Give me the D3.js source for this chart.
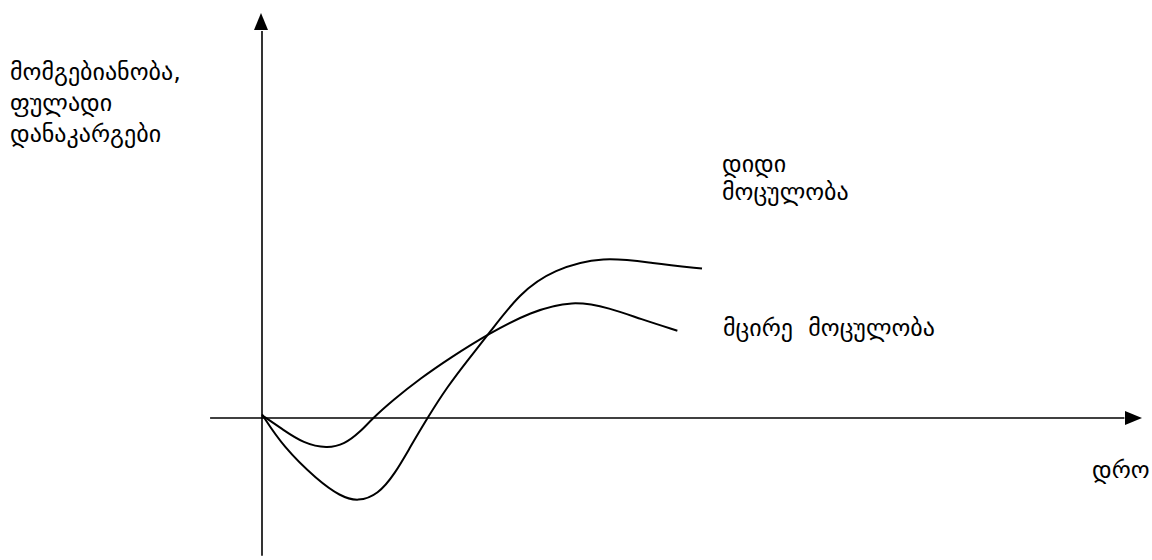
<!DOCTYPE html>
<html>
<head>
<meta charset="utf-8">
<script src="https://cdn.jsdelivr.net/npm/d3@7/dist/d3.min.js"></script>
<style>
  html, body { margin: 0; padding: 0; background: #fff; }
  svg { display: block; }
  text { font-family: "DejaVu Sans", sans-serif; fill: #000; }
</style>
</head>
<body>
<svg id="chart" width="1152" height="560"></svg>
<script>
// time (arbitrary units) and profitability / losses for two production volumes
const smallTime  = [0, 2.4, 4.7, 7.4, 9.4, 11.1, 12.5, 14.9, 18, 21.4, 25.8, 30.5, 35.3, 39.6, 43, 47.2];
const smallValue = [0.3, -1.3, -2.8, -3.4, -2.9, -1.6, -0.1, 2.0, 4.4, 6.7, 9.4, 11.8, 13.1, 12.2, 11.0, 9.7];

const largeTime  = [0, 2.4, 6.3, 8.9, 10.9, 13.2, 15.1, 16.8, 18.8, 21.0, 23.6, 25.8, 29.3, 33.1, 38.8, 44.4, 50];
const largeValue = [0.4, -3.2, -6.9, -8.7, -9.3, -8.5, -6.2, -3.3, 0, 3.4, 6.7, 9.4, 13.9, 16.5, 18.0, 17.2, 16.6];

const yTitle = ["მომგებიანობა,", "ფულადი", "დანაკარგები"];
const xTitle = "დრო";
const largeLabel = ["დიდი", "მოცულობა"];
const smallLabel = "მცირე  მოცულობა";

const svg = d3.select("#chart");

const x = d3.scaleLinear().domain([0, 100]).range([262, 1142]);
const y = d3.scaleLinear().domain([-15, 45]).range([553, 13]);

// axes
svg.append("line")
  .attr("x1", x(-5.9)).attr("x2", x(98)).attr("y1", y(0)).attr("y2", y(0))
  .attr("stroke", "#000").attr("stroke-width", 1.6);
svg.append("line")
  .attr("x1", x(0)).attr("x2", x(0)).attr("y1", y(-15.3)).attr("y2", y(43))
  .attr("stroke", "#000").attr("stroke-width", 1.6);

// arrowheads
svg.append("path")
  .attr("d", `M${x(100)},${y(0)} L${x(100) - 17},${y(0) - 7} L${x(100) - 17},${y(0) + 7} Z`)
  .attr("fill", "#000");
svg.append("path")
  .attr("d", `M${x(0) - 1},${y(45)} L${x(0) - 8},${y(45) + 17} L${x(0) + 6},${y(45) + 17} Z`)
  .attr("fill", "#000");

// B-spline through the sampled values gives the smooth hand-drawn look
const line = d3.line()
  .x(d => x(d[0]))
  .y(d => y(d[1]))
  .curve(d3.curveBasis);

svg.append("path")
  .datum(d3.zip(smallTime, smallValue))
  .attr("d", line)
  .attr("fill", "none").attr("stroke", "#000").attr("stroke-width", 2);

svg.append("path")
  .datum(d3.zip(largeTime, largeValue))
  .attr("d", line)
  .attr("fill", "none").attr("stroke", "#000").attr("stroke-width", 2);

// labels
svg.append("g").selectAll("text").data(yTitle).join("text")
  .attr("x", 10).attr("y", (d, i) => 80 + i * 31)
  .attr("font-size", 24)
  .text(d => d);

svg.append("g").selectAll("text").data(largeLabel).join("text")
  .attr("x", 722).attr("y", (d, i) => 172 + i * 28)
  .attr("font-size", 24)
  .text(d => d);

svg.append("text").attr("x", 723).attr("y", 336)
  .attr("font-size", 24)
  .style("white-space", "pre")
  .text(smallLabel);

svg.append("text").attr("x", 1092).attr("y", 478)
  .attr("font-size", 24)
  .text(xTitle);
</script>
</body>
</html>
